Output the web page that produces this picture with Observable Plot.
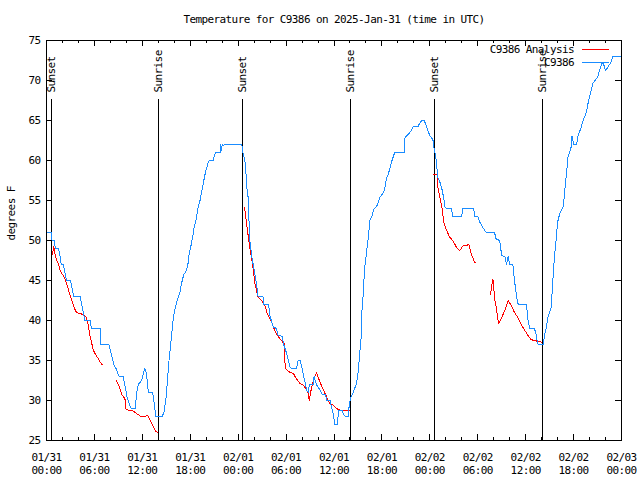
<!DOCTYPE html>
<html><head><meta charset="utf-8">
<script src="https://cdn.jsdelivr.net/npm/d3@7"></script>
<script src="https://cdn.jsdelivr.net/npm/@observablehq/plot@0.6"></script>
<style>
body{margin:0;background:#fff;}
svg text{font-family:"DejaVu Sans Mono",monospace;letter-spacing:-0.6px;}
svg path, svg line, svg rect{shape-rendering:crispEdges;}
</style></head><body><div id="chart"></div>
<script>
const titleText = "Temperature for C9386 on 2025-Jan-31 (time in UTC)";
const yLabel = "degrees F";
const legendNames = ["C9386 Analysis", "C9386"];
const legendColors = ["#ff0000", "#1a8cff"];

const yTicks = [25, 30, 35, 40, 45, 50, 55, 60, 65, 70, 75];
const xMajor = [0, 6, 12, 18, 24, 30, 36, 42, 48, 54, 60, 66, 72];
const xTickLabels = ["01/31\n00:00","01/31\n06:00","01/31\n12:00","01/31\n18:00",
  "02/01\n00:00","02/01\n06:00","02/01\n12:00","02/01\n18:00",
  "02/02\n00:00","02/02\n06:00","02/02\n12:00","02/02\n18:00","02/03\n00:00"];
const xMinor = d3.range(0, 73, 2);

const eventHours = [0.67, 14.04, 24.55, 38.04, 48.55, 62.08];
const eventLabels = ["Sunset", "Sunrise", "Sunset", "Sunrise", "Sunset", "Sunrise"];

// hours since 2025-01-31 00:00 UTC
const obsHour = [0,0.6,0.7,1.0,1.1,1.5,1.7,1.85,2.1,2.3,2.5,3.0,3.2,3.4,4.2,4.4,4.6,4.8,5.5,5.6,6.7,6.8,7.8,8.0,8.2,8.5,8.7,9.0,9.1,9.6,9.9,10.1,10.3,10.5,10.6,11.1,11.3,11.5,11.9,12.1,12.3,12.5,12.75,13.3,13.5,13.7,14.5,14.75,15.0,15.3,15.6,15.8,16.0,16.3,16.7,16.9,17.2,17.4,17.7,17.8,18.1,18.3,18.5,18.75,19.0,19.25,19.5,19.7,19.9,20.2,20.4,20.9,21.0,21.2,21.75,21.8,21.9,22.0,22.1,22.3,24.45,24.6,24.9,25.1,25.3,25.4,25.7,26.1,26.3,26.5,27.1,27.2,27.8,28.0,28.4,28.8,29.0,29.5,29.7,30.1,30.5,30.7,31.3,31.5,31.75,32.0,32.2,32.6,32.8,32.9,33.4,33.5,33.8,34.25,34.5,34.9,35.1,35.5,35.7,35.9,36.1,36.4,36.6,37.0,37.2,37.4,37.8,37.9,38.1,38.4,38.8,39.0,39.25,39.4,39.5,39.7,39.8,40.0,40.1,40.3,40.5,40.7,41.0,41.3,41.5,41.75,42.2,42.4,42.6,42.8,43.2,43.4,43.6,44.8,44.9,45.1,45.3,45.7,45.9,46.5,46.75,47.0,47.3,47.6,48.0,48.2,48.4,48.5,48.75,49.0,49.2,49.5,49.7,49.9,50.1,50.7,50.9,52.0,52.1,53.5,53.6,54.0,54.25,54.6,54.9,55.1,56.1,56.3,56.75,57.0,57.4,57.6,57.8,58.0,58.4,58.6,58.8,59.0,59.25,60.1,60.3,60.5,61.1,61.3,61.5,61.75,62.2,62.4,62.6,62.8,63.2,63.4,63.6,63.8,64.0,64.25,64.7,64.9,65.1,65.3,65.7,65.8,66.0,66.4,66.5,66.9,67.2,67.6,67.8,68.2,68.4,69.0,69.25,69.6,69.8,70.0,70.3,70.7,70.9,72.0];
const obsTemp = [51,51,50,50,49,49,48,47,47,46,45,45,44,43,43,42,41,40,40,39,39,37,37,36.3,35.5,34.3,34,33.2,33,33,31.5,30.3,29.8,29.2,29,29,31,32,32.5,33.2,34,33.5,31,31,29.5,28,28,28.7,30.6,34.6,37.5,39.6,41,42.3,43.5,44.6,45.8,46,46.9,48,49.4,50.4,51.7,52.7,54.2,55.1,56.5,57.5,58.5,59.6,60,60,60.6,61,61,62,61.3,62,61.8,62,62,61,59.6,56.5,55,50.5,48,45.8,44.5,43,43,42,42,40.5,39.2,39,38.2,38,37,35.8,34.2,34,34,35,35,34,33,31.25,31,32,32,33,32,31.3,30.8,30.8,30,30,29.2,28.3,27,27,28.75,28.75,28.3,28,28,29.4,30.4,31,32.1,33.3,36.25,37.9,41.25,43.75,46.25,47.9,48.75,50.4,52.5,52.9,53.9,54.2,54.6,55.4,56,56.7,57.9,58.3,59.8,60.4,61,61,62.9,63.1,63.25,63.75,64.2,64.2,64.7,65,65,64.2,63.1,62.9,62.5,61.7,60.4,57.9,57.5,56.5,55.5,54.2,54,54,53,53,54,54,53,53,52.3,51.7,51.2,51,51,50.2,50,48.1,48,47,48,47,47,45,43.5,42.1,42,42,40,39,39,38.3,37.1,37,37,38.3,39.2,40.4,41.7,45,47.9,50,52.3,53.3,54.2,56.25,58.3,60.4,61.7,63.1,62,62,62.9,64,65,66,67.1,68.75,69.6,70.4,71.25,72.3,71.9,71.2,71.7,72.3,73,73];

const anaHour = [0.75,0.92,1.0,1.3,1.5,1.7,1.9,2.1,2.3,2.7,2.9,3.3,3.5,3.75,4.6,5.0,5.2,5.4,5.6,5.8,6.0,6.5,6.7,6.95,7.8,8.75,9.2,9.4,9.7,9.9,9.95,10.4,10.8,11.25,11.8,12.1,12.7,13.0,13.3,13.7,13.95,19,24.8,25.0,25.2,25.4,25.6,25.8,26.1,26.5,26.95,27.4,27.6,28.2,28.4,28.8,29.25,29.75,29.9,30.5,30.9,31.3,31.75,32.2,32.6,32.8,32.9,33.2,33.5,33.8,34.25,34.7,35.1,35.5,35.9,36.3,36.75,37.9,43,48.5,48.9,49.0,49.25,49.5,49.75,50.1,50.5,50.7,51.1,51.3,51.75,52.2,52.6,52.9,53.2,53.6,53.8,54.7,55.6,55.8,55.9,56.0,56.1,56.3,56.6,57.0,57.4,57.8,58.2,58.6,59.0,59.5,59.9,60.3,60.7,61.5,62.0];
const anaTemp = [48.3,49.2,48.5,47.5,47.1,46.25,45.9,45.6,45.2,44,43.3,42.1,41.5,41,40.75,40.4,39.6,38.3,37.5,36.5,36,35.2,34.8,34.5,null,32.5,31.5,30.8,30.4,30,28.9,28.75,28.7,28.4,28,28,28.1,27.5,26.9,26.1,26,null,54.1,52.5,51,49.5,48.3,47,44.6,42.9,42.5,41.7,41,39.8,39.2,38.3,37.7,37.1,34,33.5,33.4,32.7,32.1,31.9,31.25,30.8,30,31.7,32.7,33.5,32.3,31.25,30.4,29.6,29.4,29.0,28.8,28.75,null,58.25,58.25,56.7,55.4,54.2,52.3,51.25,50.4,50.2,49.6,49.2,48.75,49.4,49.4,49.5,48.3,47.3,47.3,null,43.3,44.6,45.2,44.2,42.7,41.7,39.6,40.4,41.25,42.5,41.9,41.0,40.4,39.4,38.75,38.1,37.6,37.4,37.3];

const obs = obsHour.map((h, i) => ({h, t: obsTemp[i]}));
const ana = anaHour.map((h, i) => ({h, t: anaTemp[i]}));
const events = eventHours.map((h, i) => ({h, label: eventLabels[i]}));

const legend = (index, scales, values, dims) => {
  const g = d3.create("svg:g");
  const xr = dims.width - dims.marginRight;
  const yt = dims.marginTop;
  legendNames.forEach((name, i) => {
    const y = yt + 9.5 + i * 13;
    g.append("text").attr("x", xr - 47).attr("y", y).attr("dy", "0.32em")
      .attr("text-anchor", "end").attr("fill", "black").attr("font-size", 11).text(name);
    g.append("line").attr("x1", xr - 39).attr("x2", xr - 12).attr("y1", y).attr("y2", y)
      .attr("stroke", legendColors[i]).attr("stroke-width", 1);
  });
  return g.node();
};

const chart = Plot.plot({
  width: 640, height: 480,
  marginLeft: 46, marginRight: 19, marginTop: 40, marginBottom: 40,
  style: {fontFamily: "DejaVu Sans Mono", fontSize: "11px", background: "white", color: "black", overflow: "visible"},
  x: {type: "linear", domain: [0, 72]},
  y: {type: "linear", domain: [25, 75]},
  marks: [
    Plot.axisY(yTicks, {tickSize: 0, tickPadding: 6, label: null, fontSize: 11}),
    Plot.axisX(xMajor, {tickSize: 0, tickPadding: 11, label: null, fontSize: 11, lineHeight: 1.2,
      tickFormat: d => xTickLabels[xMajor.indexOf(d)]}),
    Plot.tickX(xMinor, {x: d => d, insetTop: 397, stroke: "black"}),
    Plot.tickX(xMinor, {x: d => d, insetBottom: 397, stroke: "black"}),
    Plot.tickX(xMajor, {x: d => d, insetTop: 394, stroke: "black"}),
    Plot.tickX(xMajor, {x: d => d, insetBottom: 394, stroke: "black"}),
    Plot.tickY(yTicks, {y: d => d, insetRight: 569, stroke: "black"}),
    Plot.tickY(yTicks, {y: d => d, insetLeft: 569, stroke: "black"}),
    Plot.ruleX(events, {x: "h", insetTop: 59, stroke: "black", strokeWidth: 1}),
    Plot.text(events, {x: "h", text: "label", frameAnchor: "top", dy: 52, rotate: -90,
      textAnchor: "start", lineAnchor: "middle", fill: "black", fontSize: 11}),
    Plot.line(ana, {x: "h", y: "t", stroke: legendColors[0], strokeWidth: 1}),
    Plot.line(obs, {x: "h", y: "t", stroke: legendColors[1], strokeWidth: 1}),
    Plot.frame({stroke: "black"}),
    Plot.text([yLabel], {text: d => d, frameAnchor: "left", dx: -35, rotate: -90,
      lineAnchor: "middle", fill: "black", fontSize: 11}),
    Plot.text([titleText], {text: d => d, frameAnchor: "top", dy: -21,
      lineAnchor: "middle", fill: "black", fontSize: 11}),
    legend
  ]
});
document.getElementById("chart").appendChild(chart);
</script></body></html>
